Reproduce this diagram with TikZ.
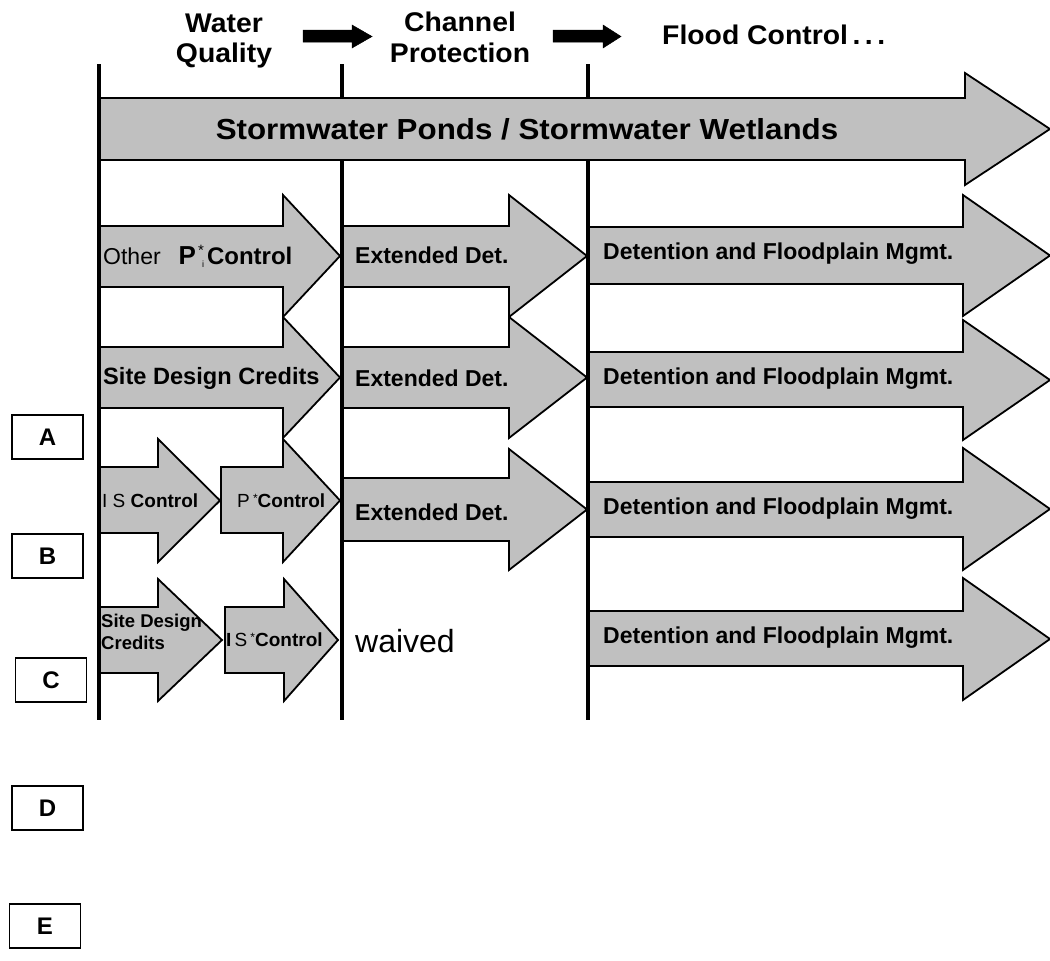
\documentclass[tikz,border=0pt]{standalone}
\usepackage{fontspec}
\setmainfont{Liberation Sans}
\newfontfamily\hdrfont{Liberation Sans}[FakeStretch=1.05]
\newfontfamily\swfont{Liberation Sans}[FakeStretch=1.08]
\definecolor{arrgray}{HTML}{C0C0C0}
\newcommand\fs[1]{\fontsize{#1}{#1}\selectfont}
% block arrow: x0, head base x, tip x, body top, body bottom, head top, head bottom
\newcommand\blkarrow[8][garrow]{%
  \filldraw[#1] (#2,#5) -- (#3,#5) -- (#3,#7) -- (#4,{(#7+#8)/2}) -- (#3,#8) -- (#3,#6) -- (#2,#6) -- cycle;}
\begin{document}
\begin{tikzpicture}[x=1pt,y=-1pt,
  garrow/.style={fill=arrgray,draw=black,line width=1.8pt,line join=miter},
  karrow/.style={fill=black,draw=black,line width=0.5pt},
  vline/.style={line width=3.2pt,black},
  lbl/.style={anchor=west,inner sep=0pt,font=\fs{23}\bfseries},
  hdr/.style={inner sep=0pt,anchor=base,font=\hdrfont\fs{27}\bfseries},
  letterbox/.style={draw=black,line width=1.2pt,fill=white,minimum width=71pt,minimum height=44pt,inner sep=0pt,font=\fs{24}\bfseries}]
\useasboundingbox (0,0) rectangle (1050,961);
\fill[white] (0,0) rectangle (1050,961);

% header
\node[hdr] (wq1) at (224,32) {Water};
\node[hdr] (wq2) at (224,62) {Quality};
\node[hdr] (cp1) at (460,31) {Channel};
\node[hdr] (cp2) at (460,62) {Protection};
\node[hdr,anchor=base west] (fc) at (662,44) {Flood Control\,.\,.\,.};
\blkarrow[karrow]{303}{352}{372}{30}{42}{25}{48}
\blkarrow[karrow]{553}{603}{621}{30}{42}{25}{48}

% big arrow
\blkarrow{99}{965}{1050}{98}{160}{73}{185}
\node[inner sep=0pt,font=\swfont\fs{29}\bfseries] (sw) at (527,129) {Stormwater Ponds / Stormwater Wetlands};

% row 1
\blkarrow{99}{283}{340}{226}{287}{195}{317}
\blkarrow{342}{509}{587}{226}{287}{195}{317}
\blkarrow{588}{963}{1050}{227}{284}{195}{316}
% row 2
\blkarrow{99}{283}{340}{347}{408}{317}{438}
\blkarrow{342}{509}{587}{347}{408}{317}{438}
\blkarrow{588}{963}{1050}{352}{407}{320}{440}
% row 3
\blkarrow{99}{158}{220}{467}{533}{439}{562}
\blkarrow{221}{283}{340}{467}{533}{439}{562}
\blkarrow{342}{509}{587}{478}{541}{449}{570}
\blkarrow{588}{963}{1050}{482}{537}{448}{570}
% row 4
\blkarrow{99}{158}{222}{607}{673}{579}{701}
\blkarrow{225}{284}{338}{607}{673}{579}{701}
\blkarrow{588}{963}{1050}{611}{666}{578}{700}

% vertical lines
\coordinate (l1t) at (99,64);  \coordinate (l1b) at (99,720);
\coordinate (l2t) at (342,64); \coordinate (l2a) at (342,98); \coordinate (l2c) at (342,160); \coordinate (l2b) at (342,720);
\coordinate (l3t) at (588,64); \coordinate (l3a) at (588,98); \coordinate (l3c) at (588,160); \coordinate (l3b) at (588,720);
\draw[vline] (l1t) -- (l1b);
\draw[vline] (l2t) -- (l2a) (l2c) -- (l2b);
\draw[vline] (l3t) -- (l3a) (l3c) -- (l3b);

% row labels
\node[lbl,font=\fs{23}] (r1a) at (103,256) {Other\hspace{18pt}\textbf{\fs{26}P}\hspace{6pt}\raisebox{-3pt}{\fs{9}i}\llap{\raisebox{9pt}{\fs{15}*}}\hspace{3pt}\textbf{\fs{24}Control}};
\node[lbl] (r1b) at (355,255) {Extended Det.};
\node[lbl] (r1c) at (603,254) {Detention and Floodplain Mgmt.};
\node[lbl,font=\fs{23.6}\bfseries] (r2a) at (103,378) {Site Design Credits};
\node[lbl] (r2b) at (355,378) {Extended Det.};
\node[lbl] (r2c) at (603,379) {Detention and Floodplain Mgmt.};
\node[lbl,font=\fs{19}] (r3a) at (102,501) {I S \textbf{Control}};
\node[lbl,font=\fs{19}] (r3b) at (237,501) {P\,\raisebox{5pt}{\fs{12}*}\textbf{Control}};
\node[lbl] (r3c) at (355,512) {Extended Det.};
\node[lbl] (r3d) at (603,509) {Detention and Floodplain Mgmt.};
\node[lbl,font=\fs{18.5}\bfseries,align=left] (r4a) at (101,632) {Site Design\\[3pt]Credits};
\node[lbl,font=\fs{19}] (r4b) at (226,640) {\textbf{I}\,S\,\raisebox{5pt}{\fs{12}*}\textbf{Control}};
\node[lbl,font=\fs{32}] (r4c) at (355,641) {waived};
\node[lbl] (r4d) at (603,638) {Detention and Floodplain Mgmt.};

% letter boxes
\node[letterbox] (A) at (47.5,437) {A};
\node[letterbox] (B) at (47.5,556) {B};
\node[letterbox] (C) at (51,680) {C};
\node[letterbox] (D) at (47.5,808) {D};
\node[letterbox] (E) at (45,926) {E};
\end{tikzpicture}
\end{document}
